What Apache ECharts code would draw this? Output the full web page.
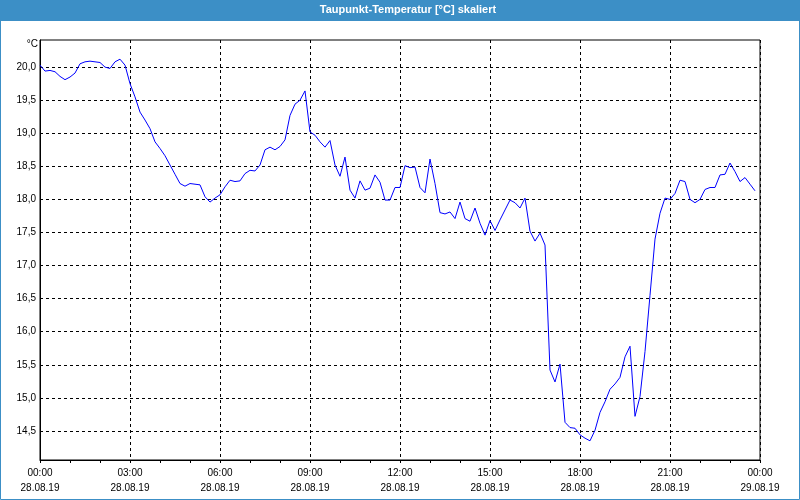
<!DOCTYPE html>
<html>
<head>
<meta charset="utf-8">
<script src="https://cdn.jsdelivr.net/npm/echarts@6/dist/echarts.min.js"></script>
<style>
html,body{margin:0;padding:0;background:#fff;}
#chart{width:800px;height:500px;}
</style>
</head>
<body>
<div id="chart"></div>
<script>
// 10-minute readings starting 28.08.19 00:00
var startLabel = '28.08.19';
var endLabel = '29.08.19';
var stepMinutes = 10;
var dewpoint = [
  20.03,19.94,19.95,19.93,19.86,19.81,19.85,19.91,20.05,20.08,
  20.09,20.08,20.07,20.00,19.98,20.08,20.12,20.03,19.75,19.55,
  19.32,19.20,19.07,18.87,18.77,18.66,18.52,18.38,18.24,18.20,
  18.24,18.23,18.22,18.04,17.96,18.02,18.07,18.19,18.29,18.27,
  18.28,18.39,18.44,18.43,18.52,18.75,18.79,18.75,18.80,18.90,
  19.27,19.44,19.50,19.64,19.02,18.97,18.87,18.79,18.89,18.52,
  18.35,18.64,18.14,18.02,18.28,18.14,18.17,18.37,18.26,17.99,
  17.99,18.18,18.18,18.51,18.48,18.49,18.18,18.10,18.61,18.24,
  17.80,17.78,17.81,17.71,17.96,17.71,17.67,17.87,17.64,17.46,
  17.68,17.53,17.69,17.84,17.99,17.95,17.87,18.02,17.52,17.37,
  17.49,17.31,15.42,15.24,15.51,14.63,14.55,14.54,14.44,14.39,
  14.35,14.51,14.78,14.94,15.13,15.21,15.31,15.62,15.78,14.72,
  15.02,15.70,16.55,17.40,17.79,18.02,18.00,18.09,18.29,18.27,
  18.00,17.95,18.00,18.15,18.18,18.18,18.37,18.38,18.55,18.42,
  18.27,18.33,18.23,18.13
];
var yTicks = [14.5,15.0,15.5,16.0,16.5,17.0,17.5,18.0,18.5,19.0,19.5,20.0];

var seriesData = dewpoint.map(function(v,i){ return [i*stepMinutes/60, v]; });
var FONT = '"Liberation Sans",Arial,sans-serif';

var chart = echarts.init(document.getElementById('chart'), null, {renderer:'canvas'});
chart.setOption({
  backgroundColor:'#ffffff',
  animation:false,
  graphic:[
    {type:'rect', shape:{x:0,y:0,width:800,height:21}, style:{fill:'#3c8fc6'}, z:100},
    {type:'rect', shape:{x:0.5,y:0.5,width:799,height:499}, style:{fill:null, stroke:'#3c8fc6', lineWidth:1}, z:100},
    {type:'text', x:408, y:10, style:{text:'Taupunkt-Temperatur [°C] skaliert', fill:'#ffffff', font:'bold 11px '+FONT, align:'center', verticalAlign:'middle'}, z:101},
    {type:'text', x:38, y:44, style:{text:'°C', fill:'#000', font:'10px '+FONT, align:'right', verticalAlign:'middle'}, z:101}
  ],
  grid:{left:40,right:40,top:40,bottom:40,show:true,borderColor:'#000',borderWidth:1,backgroundColor:'#ffffff'},
  xAxis:{
    type:'value', min:0, max:24, interval:3,
    axisLine:{show:true,lineStyle:{color:'#000',width:1}},
    axisTick:{show:true,length:3,lineStyle:{color:'#000'}},
    minorTick:{show:true,splitNumber:3,length:3,lineStyle:{color:'#000'}},
    splitLine:{show:true,lineStyle:{color:'#000',type:[3,3],width:1}},
    axisLabel:{
      margin:6, color:'#000', fontFamily:FONT, fontSize:10, lineHeight:15,
      formatter:function(v){
        var h = v % 24;
        var hh = (h<10?'0':'')+h+':00';
        return hh+'\n'+(v>=24?endLabel:startLabel);
      }
    }
  },
  yAxis:{
    type:'value', min:14.06, max:20.41,
    axisLine:{show:true,lineStyle:{color:'#000'}},
    axisTick:{show:false},
    splitLine:{show:false},
    axisLabel:{
      margin:4, color:'#000', fontFamily:FONT, fontSize:10,
      customValues:yTicks,
      formatter:function(v){ return v.toFixed(1).replace('.',','); }
    }
  },
  series:[{
    type:'line',
    data:seriesData,
    showSymbol:false,
    symbol:'none',
    lineStyle:{color:'#0000ff',width:1},
    markLine:{
      silent:true, symbol:['none','none'], animation:false,
      label:{show:false},
      lineStyle:{color:'#000',type:[3,3],width:1},
      data:yTicks.map(function(t){ return {yAxis:t}; })
    },
    z:5
  }]
});
</script>
</body>
</html>
